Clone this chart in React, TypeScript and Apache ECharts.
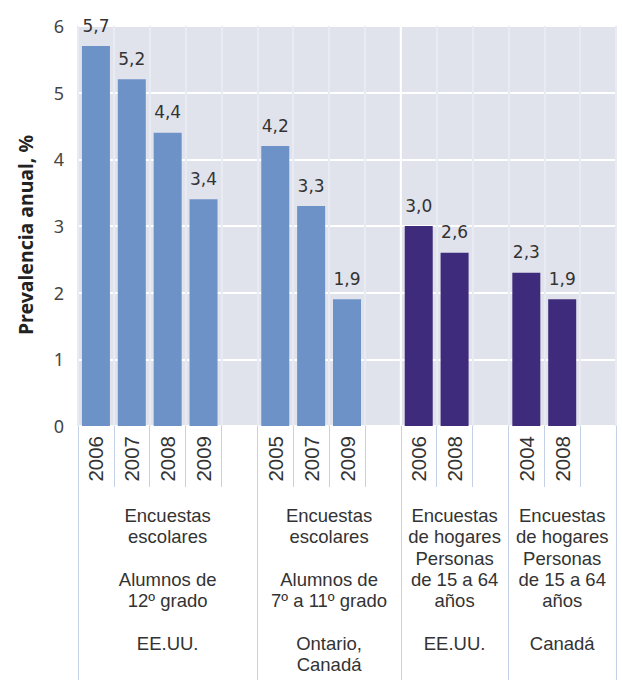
import { useEffect, useRef } from "react";
import * as echarts from "echarts";

// Survey years, one slot per bar; empty slots separate the survey groups.
const yearLabels = ["2006", "2007", "2008", "2009", "", "2005", "2007", "2009", "", "2006", "2008", "", "2004", "2008", ""];

// Annual prevalence (%) from school surveys.
const schoolValues = [5.7, 5.2, 4.4, 3.4, null, 4.2, 3.3, 1.9, null, null, null, null, null, null, null];

// Annual prevalence (%) from household surveys.
const householdValues = [null, null, null, null, null, null, null, null, null, 3.0, 2.6, null, 2.3, 1.9, null];

// First and last slot of each survey group.
const groupStarts = [0, 5, 9, 12];
const groupEnds = [4, 8, 11, 14];

const groupLabels = [
  "Encuestas\nescolares\n\nAlumnos de\n12º grado\n\nEE.UU.",
  "Encuestas\nescolares\n\nAlumnos de\n7º a 11º grado\n\nOntario,\nCanadá",
  "Encuestas\nde hogares\nPersonas\nde 15 a 64\naños\n\nEE.UU.",
  "Encuestas\nde hogares\nPersonas\nde 15 a 64\naños\n\nCanadá",
];

const yMax = 6;
const yStep = 1;
const yTitle = "Prevalencia anual, %";

// The white divider sits between the school and household sections.
const lastSchoolSlot = 8;

const SCHOOL_BLUE = "#6c92c8";
const HOUSEHOLD_PURPLE = "#3f2b7b";
const PLOT_BG = "#e1e3ec";
const CELL_LINE = "#c4d1e6";
const TEXT = "#333333";

const fmt = (p: any) =>
  p.value == null ? "" : Number(p.value).toFixed(1).replace(".", ",");

export default function App() {
  const ref = useRef<HTMLDivElement>(null);

  useEffect(() => {
    if (!ref.current) return;
    const chart = echarts.init(ref.current, undefined, { renderer: "svg" });

    const barLabel = {
      show: true,
      position: "top" as const,
      distance: 12,
      formatter: fmt,
      fontFamily: "DejaVu Sans",
      fontSize: 17,
      color: TEXT,
    };

    chart.setOption({
      animation: false,
      grid: {
        left: 78,
        right: 6,
        top: 26,
        bottom: 254,
        show: true,
        backgroundColor: PLOT_BG,
        borderWidth: 0,
      },
      xAxis: [
        {
          type: "category",
          data: yearLabels,
          position: "bottom",
          axisLine: { show: false },
          axisTick: {
            show: true,
            interval: 0,
            length: 61,
            lineStyle: { color: CELL_LINE, width: 1 },
          },
          splitLine: {
            show: true,
            interval: 0,
            lineStyle: { color: "#e9ebf3", width: 2 },
          },
          axisLabel: {
            interval: 0,
            rotate: 90,
            margin: 10,
            fontFamily: "Liberation Sans",
            fontSize: 20.5,
            color: TEXT,
          },
        },
        {
          type: "category",
          data: yearLabels,
          position: "bottom",
          axisLine: { show: false },
          axisLabel: { show: false },
          splitLine: { show: false },
          axisTick: {
            show: true,
            interval: (i: number) => groupStarts.includes(i),
            length: 254,
            lineStyle: { color: CELL_LINE, width: 1 },
          },
        },
      ],
      yAxis: {
        type: "value",
        min: 0,
        max: yMax,
        interval: yStep,
        axisLine: { show: false },
        axisTick: { show: false },
        axisLabel: {
          margin: 14,
          fontFamily: "Noto Sans",
          fontSize: 18,
          color: "#444444",
        },
        splitLine: { lineStyle: { color: "#ffffff", width: 2 } },
      },
      series: [
        {
          type: "bar",
          xAxisIndex: 0,
          data: schoolValues,
          barWidth: 28,
          barGap: "-100%",
          itemStyle: { color: SCHOOL_BLUE },
          label: barLabel,
        },
        {
          type: "bar",
          xAxisIndex: 0,
          data: householdValues,
          barWidth: 28,
          barGap: "-100%",
          itemStyle: { color: HOUSEHOLD_PURPLE },
          label: barLabel,
        },
      ],
    });

    // Place the divider, the group captions and the axis title from the axes' own scales.
    const px = (i: number) => chart.convertToPixel({ xAxisIndex: 0 }, i) as number;
    const py = (v: number) => chart.convertToPixel({ yAxisIndex: 0 }, v) as number;
    const yTop = py(yMax);
    const yZero = py(0);
    const dividerX = (px(lastSchoolSlot) + px(lastSchoolSlot + 1)) / 2;

    const captions = groupLabels.map((text, g) => ({
      type: "text",
      x: (px(groupStarts[g]) + px(groupEnds[g])) / 2,
      y: yZero + 79,
      style: {
        text,
        align: "center",
        verticalAlign: "top",
        fontFamily: "Liberation Sans",
        fontSize: 18.5,
        lineHeight: 21.3,
        fill: TEXT,
      },
    }));

    chart.setOption({
      graphic: [
        {
          type: "line",
          shape: { x1: dividerX, y1: yTop, x2: dividerX, y2: yZero },
          style: { stroke: "#ffffff", lineWidth: 2 },
          z: 1,
        },
        ...captions,
        {
          type: "text",
          x: 25,
          y: (yTop + yZero) / 2 + 9,
          rotation: Math.PI / 2,
          style: {
            text: yTitle,
            align: "center",
            verticalAlign: "middle",
            fontFamily: "Noto Sans",
            fontWeight: "bold",
            fontSize: 19.5,
            fill: "#222222",
          },
        },
      ],
    });

    return () => chart.dispose();
  }, []);

  return (
    <div
      ref={ref}
      style={{ position: "fixed", left: 0, top: 0, width: 622, height: 680, background: "#ffffff" }}
    />
  );
}
